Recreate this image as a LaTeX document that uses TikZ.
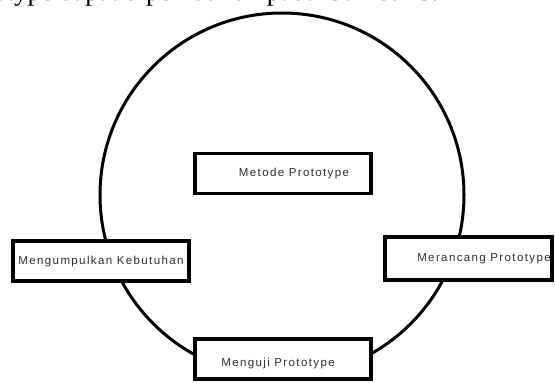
\documentclass[tikz,border=0pt]{standalone}
\usepackage{fontspec}
\newfontfamily\boxfont[LetterSpace=12]{Liberation Sans}
\newfontfamily\pagefont{Liberation Serif}
\usetikzlibrary{positioning}

\begin{document}
\begin{tikzpicture}[x=1pt,y=-1pt,
    stage/.style={draw,line width=3.6pt,fill=white,minimum width=176pt,minimum height=40pt,inner sep=0pt},
    stagetext/.style={font=\boxfont\fontsize{11.5}{13}\selectfont,text=black!82,inner sep=0pt}]
    \useasboundingbox (0,0) rectangle (555,383);
    \clip (0,0) rectangle (555,383);

    % cut-off line of the page above the figure
    \node[anchor=base west,inner sep=0pt,font=\pagefont\fontsize{27}{30}\selectfont] (pageline) at (-52,0.5) {Prototype dapat diperhatikan pada Gambar 3.};

    % the cycle
    \draw[line width=3pt] (282,195) circle (182);

    \node[stage] (metode) at (283,173.5) {};
    \node[stage] (kumpul) at (101,261) {};
    \node[stage,minimum width=167pt,minimum height=43pt] (rancang) at (468.5,258.5) {};
    \node[stage] (uji) at (283,359) {};

    \node[stagetext,xshift=11pt] (metodetext) at (metode) {Metode Prototype};
    \node[stagetext,yshift=-1pt] (kumpultext) at (kumpul) {Mengumpulkan Kebutuhan};
    \node[stagetext,xshift=15.5pt] (rancangtext) at (rancang) {Merancang Prototype};
    \node[stagetext,xshift=-5pt,yshift=-5pt] (ujitext) at (uji) {Menguji Prototype};
\end{tikzpicture}
\end{document}
